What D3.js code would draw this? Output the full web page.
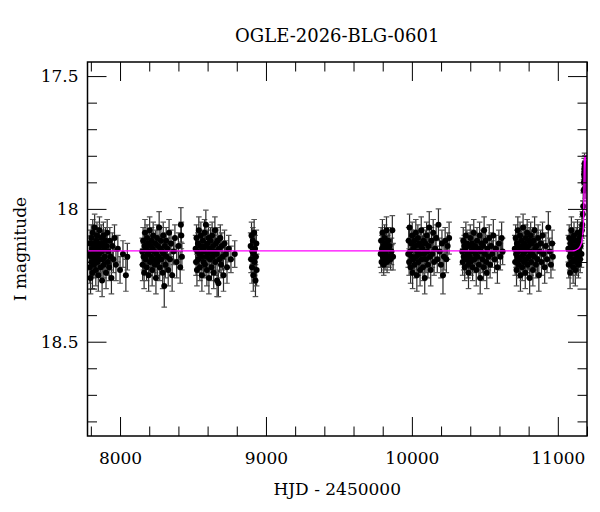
<!DOCTYPE html>
<html>
<head>
<meta charset="utf-8">
<script src="https://cdn.jsdelivr.net/npm/d3@7"></script>
<style>
  html, body { margin: 0; padding: 0; background: #fff; }
  svg { display: block; }
  text { font-family: "DejaVu Serif", "Liberation Serif", serif; fill: #000; }
</style>
</head>
<body>
<svg id="chart" width="600" height="512"></svg>
<script>
// ---------------- DATA ----------------
const title = "OGLE-2026-BLG-0601";
const xLabel = "HJD - 2450000";
const yLabel = "I magnitude";
const xMajorTicks = [8000, 9000, 10000, 11000];
const yMajorTicks = [17.5, 18, 18.5];
const yTickLabels = ["17.5", "18", "18.5"];

// observations per season: [HJD-2450000, I mag, error]
const s2017 = [[7790,18.17,.05],[7793,18.22,.06],[7795,18.13,.05],[7798,18.26,.06],[7800,18.18,.05],[7803,18.11,.05],[7805,18.20,.05],[7808,18.15,.04],[7811,18.24,.06],[7813,18.09,.05],[7816,18.17,.05],[7818,18.13,.04],[7821,18.21,.05],[7824,18.16,.05],[7826,18.07,.05],[7829,18.19,.05],[7832,18.14,.04],[7834,18.23,.06],[7837,18.12,.05],[7840,18.18,.05],[7842,18.10,.05],[7845,18.20,.05],[7848,18.15,.04],[7851,18.25,.06],[7853,18.13,.05],[7856,18.17,.05],[7859,18.08,.05],[7862,18.19,.05],[7865,18.14,.04],[7868,18.22,.05],[7871,18.11,.05],[7874,18.16,.04],[7877,18.27,.06],[7880,18.13,.05],[7883,18.19,.05],[7886,18.10,.05],[7889,18.21,.05],[7893,18.15,.04],[7896,18.18,.05],[7900,18.12,.05],[7904,18.24,.06],[7908,18.14,.05],[7912,18.09,.05],[7916,18.20,.05],[7920,18.16,.04],[7925,18.22,.05],[7930,18.12,.05],[7935,18.18,.05],[7941,18.26,.06],[7947,18.14,.05],[7954,18.19,.05],[7962,18.11,.05],[7972,18.21,.06],[7985,18.15,.05],[8000,18.23,.05],[8020,18.17,.05],[8040,18.25,.06],[8050,18.18,.05]];
const s2018 = [[8152,18.16,.05],[8155,18.21,.06],[8158,18.12,.05],[8161,18.18,.05],[8165,18.24,.06],[8168,18.14,.05],[8171,18.09,.05],[8175,18.19,.05],[8178,18.15,.04],[8182,18.22,.05],[8185,18.11,.05],[8189,18.17,.05],[8192,18.13,.04],[8196,18.25,.06],[8199,18.16,.05],[8203,18.08,.05],[8206,18.20,.05],[8210,18.14,.04],[8213,18.18,.05],[8217,18.12,.05],[8220,18.23,.06],[8224,18.15,.05],[8227,18.10,.05],[8231,18.19,.05],[8235,18.16,.04],[8238,18.21,.05],[8242,18.13,.05],[8246,18.26,.06],[8249,18.17,.05],[8253,18.11,.05],[8257,18.20,.05],[8260,18.14,.04],[8264,18.18,.05],[8268,18.07,.06],[8272,18.22,.05],[8276,18.15,.05],[8280,18.12,.05],[8284,18.19,.05],[8288,18.16,.04],[8292,18.24,.06],[8296,18.10,.05],[8300,18.17,.05],[8303,18.29,.08],[8307,18.14,.05],[8311,18.21,.05],[8316,18.12,.05],[8320,18.18,.05],[8325,18.15,.04],[8330,18.23,.06],[8336,18.09,.05],[8342,18.19,.05],[8349,18.13,.05],[8357,18.25,.06],[8366,18.16,.05],[8376,18.11,.05],[8388,18.20,.06],[8400,18.14,.05],[8412,18.22,.06],[8417,18.06,.065],[8420,18.10,.05],[8424,18.18,.05]];
const s2019 = [[8518,18.15,.05],[8521,18.20,.05],[8524,18.11,.05],[8527,18.23,.06],[8530,18.16,.05],[8534,18.13,.04],[8537,18.19,.05],[8540,18.08,.05],[8544,18.17,.05],[8547,18.22,.05],[8551,18.14,.04],[8554,18.10,.05],[8558,18.18,.05],[8561,18.25,.06],[8565,18.15,.05],[8568,18.12,.04],[8572,18.20,.05],[8575,18.16,.05],[8579,18.09,.05],[8582,18.21,.05],[8586,18.14,.05],[8588,18.06,.055],[8592,18.18,.05],[8595,18.23,.06],[8599,18.13,.05],[8602,18.17,.04],[8606,18.11,.05],[8609,18.26,.06],[8613,18.15,.05],[8616,18.19,.05],[8620,18.12,.05],[8624,18.16,.04],[8627,18.22,.05],[8631,18.10,.05],[8635,18.18,.05],[8638,18.14,.04],[8642,18.24,.06],[8646,18.16,.05],[8650,18.08,.05],[8653,18.20,.05],[8657,18.13,.05],[8661,18.17,.04],[8665,18.27,.06],[8669,18.12,.05],[8674,18.28,.05],[8678,18.15,.05],[8682,18.19,.05],[8687,18.11,.05],[8692,18.21,.05],[8697,18.14,.05],[8703,18.18,.05],[8709,18.25,.06],[8716,18.13,.05],[8724,18.17,.05],[8733,18.22,.06],[8745,18.15,.05],[8760,18.19,.05],[8786,18.17,.05]];
const s2020 = [[8895,18.14,.05],[8898,18.19,.05],[8901,18.10,.05],[8904,18.22,.06],[8907,18.16,.05],[8910,18.12,.05],[8913,18.25,.06],[8916,18.17,.05],[8919,18.09,.05],[8922,18.20,.05],[8925,18.15,.05],[8928,18.27,.06],[8931,18.18,.05],[8934,18.13,.05],[8936,18.23,.06]];
const s2022 = [[9786,18.17,.05],[9789,18.12,.05],[9792,18.20,.04],[9795,18.15,.05],[9798,18.09,.05],[9801,18.18,.04],[9804,18.14,.05],[9807,18.21,.04],[9810,18.16,.05],[9813,18.11,.05],[9816,18.19,.04],[9819,18.13,.05],[9822,18.17,.05],[9826,18.08,.05],[9830,18.20,.04],[9834,18.15,.05],[9838,18.12,.05],[9843,18.18,.04],[9848,18.14,.05],[9854,18.19,.04],[9860,18.16,.05],[9866,18.08,.055],[9871,18.18,.05]];
const s2023 = [[9975,18.17,.05],[9978,18.12,.05],[9981,18.20,.05],[9984,18.07,.05],[9988,18.16,.05],[9991,18.22,.06],[9995,18.13,.05],[9998,18.18,.05],[10002,18.10,.05],[10005,18.24,.06],[10009,18.15,.05],[10012,18.19,.05],[10016,18.12,.04],[10019,18.21,.05],[10023,18.14,.05],[10027,18.09,.05],[10030,18.18,.05],[10034,18.25,.06],[10038,18.16,.05],[10041,18.11,.05],[10045,18.20,.05],[10049,18.13,.05],[10053,18.17,.05],[10056,18.23,.06],[10060,18.14,.05],[10064,18.08,.05],[10068,18.19,.05],[10072,18.15,.05],[10076,18.22,.05],[10080,18.12,.05],[10084,18.17,.05],[10088,18.26,.06],[10092,18.13,.05],[10097,18.19,.05],[10101,18.10,.05],[10105,18.16,.05],[10110,18.21,.05],[10114,18.14,.05],[10119,18.07,.06],[10124,18.18,.05],[10129,18.23,.06],[10134,18.12,.05],[10140,18.17,.05],[10146,18.09,.05],[10152,18.20,.05],[10159,18.15,.05],[10166,18.11,.05],[10174,18.19,.05],[10182,18.06,.06],[10190,18.16,.05],[10199,18.21,.05],[10206,18.13,.05],[10213,18.25,.07],[10220,18.18,.05],[10228,18.12,.05],[10236,18.19,.05],[10245,18.14,.05],[10255,18.11,.06]];
const s2024 = [[10345,18.16,.05],[10348,18.20,.05],[10352,18.12,.05],[10355,18.18,.05],[10359,18.14,.04],[10362,18.22,.05],[10366,18.15,.05],[10370,18.10,.05],[10373,18.19,.05],[10377,18.13,.05],[10381,18.17,.04],[10385,18.21,.05],[10388,18.24,.06],[10392,18.14,.05],[10396,18.18,.05],[10400,18.11,.05],[10404,18.20,.05],[10408,18.16,.04],[10412,18.13,.05],[10416,18.22,.05],[10420,18.15,.05],[10424,18.09,.05],[10428,18.19,.05],[10433,18.14,.05],[10437,18.17,.04],[10441,18.23,.06],[10446,18.12,.05],[10450,18.18,.05],[10455,18.15,.05],[10459,18.21,.05],[10464,18.10,.05],[10468,18.26,.06],[10473,18.16,.05],[10478,18.13,.05],[10482,18.19,.05],[10487,18.14,.05],[10491,18.22,.05],[10495,18.08,.05],[10500,18.17,.05],[10505,18.12,.05],[10509,18.20,.05],[10513,18.24,.06],[10518,18.15,.05],[10524,18.18,.05],[10530,18.11,.05],[10536,18.21,.05],[10543,18.14,.05],[10550,18.17,.05],[10558,18.10,.06],[10567,18.19,.05],[10576,18.15,.05],[10586,18.22,.06],[10596,18.13,.05],[10606,18.18,.05],[10615,18.11,.06],[10622,18.16,.05]];
const s2025 = [[10705,18.15,.05],[10708,18.20,.05],[10711,18.11,.05],[10714,18.17,.05],[10717,18.23,.06],[10720,18.13,.05],[10723,18.18,.05],[10726,18.08,.05],[10729,18.16,.05],[10732,18.21,.05],[10735,18.14,.04],[10738,18.19,.05],[10741,18.10,.05],[10744,18.25,.06],[10747,18.15,.05],[10750,18.12,.05],[10753,18.18,.05],[10756,18.22,.05],[10759,18.14,.05],[10762,18.07,.05],[10765,18.17,.05],[10768,18.20,.05],[10771,18.13,.05],[10774,18.16,.04],[10777,18.24,.06],[10780,18.11,.05],[10783,18.19,.05],[10787,18.15,.05],[10790,18.09,.05],[10793,18.21,.05],[10796,18.14,.05],[10800,18.18,.05],[10803,18.12,.05],[10807,18.26,.06],[10810,18.16,.05],[10814,18.10,.05],[10817,18.20,.05],[10821,18.13,.05],[10825,18.17,.05],[10829,18.23,.06],[10833,18.12,.05],[10837,18.18,.05],[10841,18.08,.05],[10845,18.15,.05],[10850,18.21,.05],[10855,18.14,.05],[10860,18.19,.05],[10865,18.11,.05],[10870,18.25,.06],[10876,18.16,.05],[10882,18.13,.05],[10888,18.20,.05],[10895,18.10,.05],[10902,18.17,.05],[10910,18.22,.06],[10918,18.14,.05],[10926,18.19,.05],[10935,18.07,.06],[10944,18.16,.05],[10953,18.21,.05],[10961,18.13,.05],[10966,18.18,.05]];
const s2026 = [[11072,18.15,.05],[11075,18.21,.05],[11078,18.11,.05],[11081,18.18,.05],[11084,18.24,.06],[11087,18.13,.05],[11090,18.17,.05],[11093,18.08,.05],[11096,18.20,.05],[11099,18.15,.05],[11102,18.12,.05],[11105,18.22,.06],[11108,18.16,.05],[11111,18.10,.05],[11114,18.19,.05],[11117,18.14,.05],[11120,18.23,.06],[11123,18.17,.05],[11126,18.12,.05],[11129,18.20,.05],[11132,18.15,.05],[11135,18.09,.05],[11138,18.18,.05],[11141,18.21,.05],[11144,18.13,.05],[11147,18.16,.05],[11150,18.11,.05],[11153,18.19,.05],[11156,18.14,.05],[11159,18.10,.05],[11162,18.17,.05],[11165,18.08,.05],[11168,18.06,.05],[11171,18.02,.05],[11174,17.99,.05]];
const sEvent = [[11177,17.93,.04],[11179,17.90,.04],[11180,17.87,.04],[11181,17.85,.04],[11182,17.88,.04],[11183,17.83,.04],[11184,17.86,.04],[11185,17.84,.04],[11186,17.89,.04],[11187,17.92,.04],[11188,17.86,.04],[11190,17.84,.04],[11192,17.88,.04]];

// model light curve
const modelT   = [7777, 11100, 11120, 11135, 11148, 11158, 11165, 11171, 11176, 11178, 11180, 11182, 11186, 11190, 11193, 11194, 11195];
const modelMag = [18.158, 18.158, 18.156, 18.152, 18.146, 18.135, 18.122, 18.095, 18.059, 17.997, 17.90, 17.82, 17.80, 17.80, 17.86, 17.95, 18.01];

// ---------------- DRAW ----------------
const observations = [].concat(s2017, s2018, s2019, s2020, s2022, s2023, s2024, s2025, s2026, sEvent);
const svg = d3.select("#chart");
const L = 87.5, R = 587, T = 62, B = 436;
const x = d3.scaleLinear().domain([7777, 11200]).range([L, R]);
const y = d3.scaleLinear().domain([17.447, 18.855]).range([T, B]);

svg.append("rect").attr("width", 600).attr("height", 512).attr("fill", "#fff");

svg.append("defs").append("clipPath").attr("id", "clip")
  .append("rect").attr("x", L).attr("y", T).attr("width", R - L).attr("height", B - T);

const plot = svg.append("g").attr("clip-path", "url(#clip)");

// error bars
const eb = plot.append("g").attr("stroke", "#2a2a2a").attr("stroke-width", 1.2).attr("fill", "none");
observations.forEach(d => {
  const cx = x(d[0]), y1 = y(d[1] - d[2]), y2 = y(d[1] + d[2]);
  eb.append("line").attr("x1", cx).attr("x2", cx).attr("y1", y1).attr("y2", y2);
  eb.append("line").attr("x1", cx - 2.8).attr("x2", cx + 2.8).attr("y1", y1).attr("y2", y1).attr("stroke", "#555");
  eb.append("line").attr("x1", cx - 2.8).attr("x2", cx + 2.8).attr("y1", y2).attr("y2", y2).attr("stroke", "#555");
});
// points
plot.append("g").selectAll("circle").data(observations).join("circle")
  .attr("cx", d => x(d[0])).attr("cy", d => y(d[1])).attr("r", 3).attr("fill", "#000");

// model
const model = modelT.map((t, i) => [t, modelMag[i]]);
plot.append("path").datum(model)
  .attr("fill", "none").attr("stroke", "#ff00ff").attr("stroke-width", 1.4)
  .attr("d", d3.line().x(d => x(d[0])).y(d => y(d[1])).curve(d3.curveMonotoneX));

// axes with inward ticks
const xMinor = d3.range(7800, 11201, 200).filter(v => !xMajorTicks.includes(v));
const yMinor = d3.range(17.5, 18.86, 0.1).map(v => +v.toFixed(1)).filter(v => !yMajorTicks.includes(v));
const majLen = 19, minLen = 9.5;

svg.append("g").attr("transform", `translate(0,${B})`)
  .call(d3.axisBottom(x).tickValues(xMajorTicks).tickSize(-majLen).tickPadding(16).tickFormat(d3.format("d")));
svg.append("g").attr("transform", `translate(0,${B})`)
  .call(d3.axisBottom(x).tickValues(xMinor).tickSize(-minLen).tickFormat(""));
svg.append("g").attr("transform", `translate(0,${T})`)
  .call(d3.axisTop(x).tickValues(xMajorTicks).tickSize(-majLen).tickFormat(""));
svg.append("g").attr("transform", `translate(0,${T})`)
  .call(d3.axisTop(x).tickValues(xMinor).tickSize(-minLen).tickFormat(""));

svg.append("g").attr("transform", `translate(${L},0)`)
  .call(d3.axisLeft(y).tickValues(yMajorTicks).tickSize(-majLen).tickPadding(9).tickFormat((d, i) => yTickLabels[i]));
svg.append("g").attr("transform", `translate(${L},0)`)
  .call(d3.axisLeft(y).tickValues(yMinor).tickSize(-minLen).tickFormat(""));
svg.append("g").attr("transform", `translate(${R},0)`)
  .call(d3.axisRight(y).tickValues(yMajorTicks).tickSize(-majLen).tickFormat(""));
svg.append("g").attr("transform", `translate(${R},0)`)
  .call(d3.axisRight(y).tickValues(yMinor).tickSize(-minLen).tickFormat(""));

svg.selectAll(".domain").remove();
svg.selectAll(".tick line").attr("stroke", "#000").attr("stroke-width", 1);
svg.selectAll(".tick text").attr("font-family", "DejaVu Serif").attr("font-size", 17).attr("fill", "#000");

// frame
svg.append("rect").attr("x", L).attr("y", T).attr("width", R - L).attr("height", B - T)
  .attr("fill", "none").attr("stroke", "#000").attr("stroke-width", 1.5);

// titles
svg.append("text").attr("x", (L + R) / 2).attr("y", 42).attr("text-anchor", "middle")
  .attr("font-size", 18).text(title);
svg.append("text").attr("x", (L + R) / 2).attr("y", 495).attr("text-anchor", "middle")
  .attr("font-size", 17).text(xLabel);
svg.append("text").attr("transform", `translate(26,${(T + B) / 2}) rotate(-90)`)
  .attr("text-anchor", "middle").attr("font-size", 17).text(yLabel);
</script>
</body>
</html>
